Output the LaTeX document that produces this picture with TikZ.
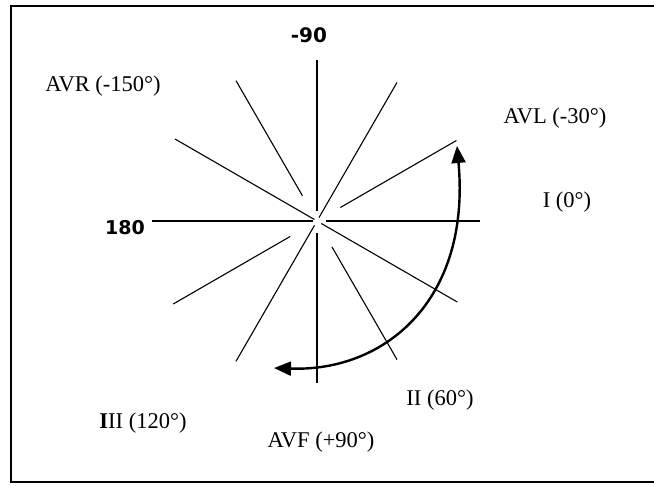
\documentclass[tikz,border=0pt]{standalone}
\usepackage{fontspec}
\setmainfont{Liberation Serif}
\newfontfamily\handfont{DejaVu Sans}
\usetikzlibrary{arrows.meta}

\begin{document}
\begin{tikzpicture}[x=1pt,y=-1pt,
    every node/.style={font=\fontsize{22.5}{26}\selectfont,inner sep=0pt},
    hand/.style={font=\handfont\bfseries\fontsize{20}{24}\selectfont},
    ray/.style={line width=1.1pt},
    sweep/.style={line width=2.4pt,{Triangle[length=17pt,width=14pt]}-{Triangle[length=17pt,width=14pt]}}]
        \useasboundingbox (0,0) rectangle (654,486);
        \draw[line width=1.5pt] (654,6) -- (11,6) -- (11,482) -- (654,482);
        \coordinate (O) at (317,221);
        % the twelve axes, angles as on the ECG (+90 points down)
        \begin{scope}[shift={(O)}]
          \foreach \a/\rin/\rout in {0/9/163, 30/5/162, 60/30/160, 90/12/162,
              120/5/162, 150/31/166, 180/4/165, -150/3/164, -120/29/162,
              -90/10/161, -60/4/160, -30/27/161}
            \draw[ray] (\a:\rin) -- (\a:\rout);
        \end{scope}
        \coordinate (sweepstart) at (457,146);
        \coordinate (sweepend) at (274,368);
        \draw[sweep] (sweepstart) .. controls (471,300) and (385,372) .. (sweepend);
        \node[hand] (minus90) at (309,35) {-90};
        \node[hand,font=\handfont\bfseries\fontsize{19}{22}\selectfont] (deg180) at (125,228) {180};
        \node (avr) at (103,86) {AVR (-150°)};
        \node (avl) at (555,118) {AVL (-30°)};
        \node (leadI) at (567,202) {I (0°)};
        \node (leadII) at (440,400) {II (60°)};
        \node (leadIII) at (143,423) {{\bfseries I}II (120°)};
        \node (avf) at (321,442) {AVF (+90°)};
      \end{tikzpicture}
\end{document}
